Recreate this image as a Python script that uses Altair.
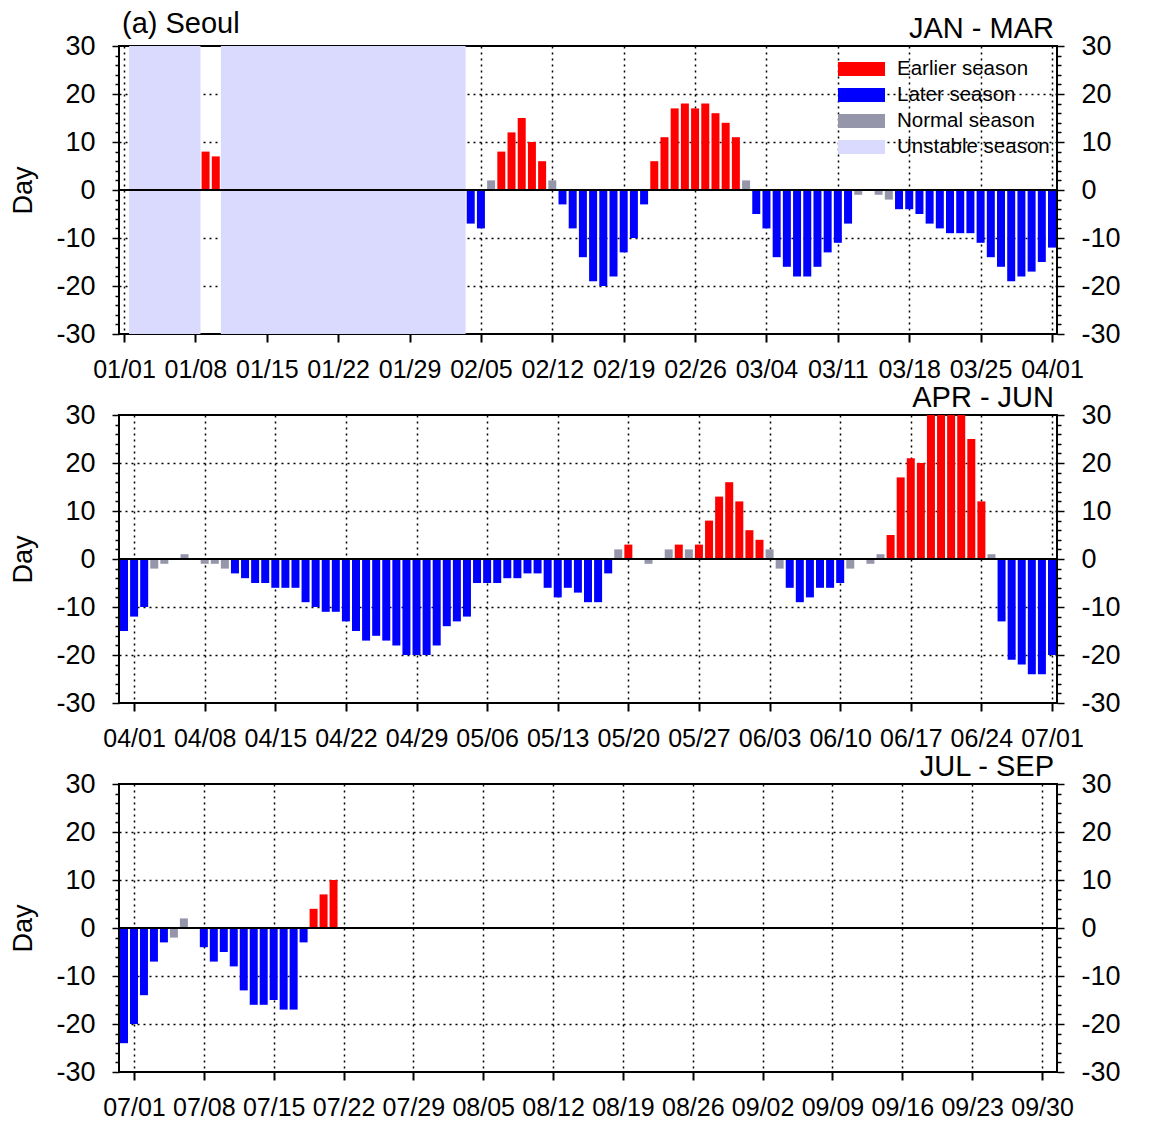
import altair as alt
import pandas as pd

FONT = "Liberation Sans"

# ---- data (days; positive = earlier season, negative = later season) ----
YEAR_START = "2012-01-01"
jan = [0] + [None] * 7 + [8, 7] + [None] * 21
feb = [None] * 3 + [-7, -8, 2, 8, 12, 15, 10, 6, 2, -3, -8, -14, -19, -20, -18, -13,
                    -10, -3, 6, 11, 17, 18, 17, 18, 16, 14]
mar = [11, 2, -5, -8, -14, -16, -18, -18, -16, -13, -11, -7, -1, 0, -1, -2, -4, -4, -5,
       -7, -8, -9, -9, -9, -11, -14, -16, -19, -18, -17, -15]
apr = [-12, -10, -2, -1, 0, 1, 0, -1, -1, -2, -3, -4, -5, -5, -6, -6, -6, -9, -10, -11,
       -11, -13, -15, -17, -16, -17, -18, -20, -20, -20]
may = [-18, -14, -13, -12, -5, -5, -5, -4, -4, -3, -3, -6, -8, -6, -7, -9, -9, -3, 2, 3,
       0, -1, 0, 2, 3, 2, 3, 8, 13, 16, 12]
jun = [6, 4, 2, -2, -6, -9, -8, -6, -6, -5, -2, 0, -1, 1, 5, 17, 21, 20, 33, 33, 33, 33,
       25, 12, 1, -13, -21, -22, -24, -24]
jul = [-20, -14, -7, -3, -2, 2, 0, -4, -7, -5, -8, -13, -16, -16, -15, -17, -17, -3, 4, 7, 10]

unstable_start = ["2012-01-02", "2012-01-11"]
unstable_end = ["2012-01-08", "2012-02-03"]

station = "(a) Seoul"
panel_names = ["JAN - MAR", "APR - JUN", "JUL - SEP"]
panel_from = ["2012-01-01", "2012-03-31", "2012-06-30"]
panel_to = ["2012-04-01", "2012-07-01", "2012-10-01"]
tick_from = ["2012-01-01", "2012-04-01", "2012-07-01"]

categories = ["Earlier season", "Later season", "Normal season", "Unstable season"]
colors = ["#FF0000", "#0000FF", "#9696AA", "#DADAFF"]

values = jan + feb + mar + apr + may + jun + jul
df = pd.DataFrame({"date": pd.date_range(YEAR_START, periods=len(values), freq="D"),
                   "v": values})
df = df[df["v"].notna() & (df["v"] != 0)].copy()

uns = pd.DataFrame({"start": pd.to_datetime(unstable_start),
                    "end": pd.to_datetime(unstable_end),
                    "cat": ["Unstable season"] * len(unstable_start)})


def dt(ts):
    ts = pd.Timestamp(ts)
    return alt.DateTime(year=ts.year, month=ts.month, date=ts.day)


W, H = 938, 288
major = "datum.value % 10 === 0"
yvals = list(range(-30, 31, 2))
yscale = alt.Scale(domain=[-30, 30], nice=False, zero=False)
cscale = alt.Scale(domain=categories, range=colors)


def y_axis(orient, grid):
    kw = dict(
        orient=orient, values=yvals,
        labelExpr=f"{major} ? '' + datum.value : ''",
        tickSize={"condition": {"test": major, "value": 7}, "value": 4},
        tickWidth=1.5, labelFontSize=27, labelPadding=17, domain=False,
        grid=grid,
    )
    if grid:
        kw.update(gridDash=[2, 4], gridColor="black", gridWidth=1.5,
                  gridOpacity={"condition": {"test": f"{major} && abs(datum.value) < 30 && datum.value !== 0",
                                             "value": 1}, "value": 0},
                  title="Day", titleFontSize=27, titleFontWeight="normal", titlePadding=18)
    else:
        kw.update(title=None)
    return alt.Axis(**kw)


legend = alt.Legend(
    title=None, orient="none", legendX=719, legendY=13,
    symbolType="M-1,-0.3H1V0.3H-1Z", symbolSize=2209, symbolStrokeWidth=0,
    symbolOpacity=1, labelFontSize=20.5, labelFont=FONT, labelColor="black",
    labelOffset=12, rowPadding=5, clipHeight=20, padding=0, labelLimit=400,
)


def text_layer(txt, x, align, y):
    return alt.Chart(pd.DataFrame({"t": [txt]})).mark_text(
        align=align, baseline="alphabetic", fontSize=29, font=FONT, color="black"
    ).encode(text="t:N", x=x, y=alt.value(y))


def panel(i):
    d0, d1 = pd.Timestamp(panel_from[i]), pd.Timestamp(panel_to[i])
    sub = df[(df["date"] >= d0) & (df["date"] <= d1)]
    xscale = alt.Scale(domain=[dt(d0), dt(d1)])
    ticks = [dt(t) for t in pd.date_range(tick_from[i], periods=14, freq="7D")]
    xaxis = alt.Axis(values=ticks, format="%m/%d", title=None, labelFontSize=25,
                     tickSize=8, tickWidth=2, labelPadding=15, domain=False,
                     grid=True, gridDash=[2, 4], gridColor="black", gridWidth=1.5)
    leg = legend if i == 0 else None

    layers = []
    if i == 0:
        rect = alt.Chart(uns).transform_calculate(
            x0="toDate(datum.start) - 43200000",
            x1="toDate(datum.end) + 43200000",
        ).mark_rect().encode(
            x=alt.X("x0:T", scale=xscale, axis=xaxis),
            x2="x1:T",
            color=alt.Color("cat:N", scale=cscale, legend=leg),
        )
        layers.append(rect)

    bars = alt.Chart(sub).transform_calculate(
        cat="abs(datum.v) <= 2 ? 'Normal season' : (datum.v > 0 ? 'Earlier season' : 'Later season')"
    ).mark_bar(size=8, clip=True).encode(
        x=alt.X("date:T", scale=xscale, axis=xaxis),
        y=alt.Y("v:Q", scale=yscale, axis=y_axis("left", True)),
        color=alt.Color("cat:N", scale=cscale, legend=leg),
    )
    layers.append(bars)

    zero = alt.Chart(pd.DataFrame({"z": [0]})).mark_rule(color="black", strokeWidth=2).encode(
        y=alt.Y("z:Q", scale=yscale, axis=y_axis("right", False)),
    )
    layers.append(zero)

    layers.append(text_layer(panel_names[i], alt.value(W - 3), "right", -8))
    if i == 0:
        layers.append(text_layer(station, alt.value(3), "left", -13))

    return alt.layer(*layers).resolve_axis(y="independent").properties(width=W, height=H)


chart = alt.vconcat(
    panel(0), panel(1), panel(2), spacing=0,
).resolve_scale(color="independent").properties(
    padding={"left": 0, "right": 5, "top": 1, "bottom": 5}
).configure_view(
    stroke="black", strokeWidth=2
).configure_axis(
    labelFont=FONT, titleFont=FONT, labelColor="black", titleColor="black",
    tickColor="black",
)

chart.save("out.html", embed_options={"renderer": "svg", "actions": False})
